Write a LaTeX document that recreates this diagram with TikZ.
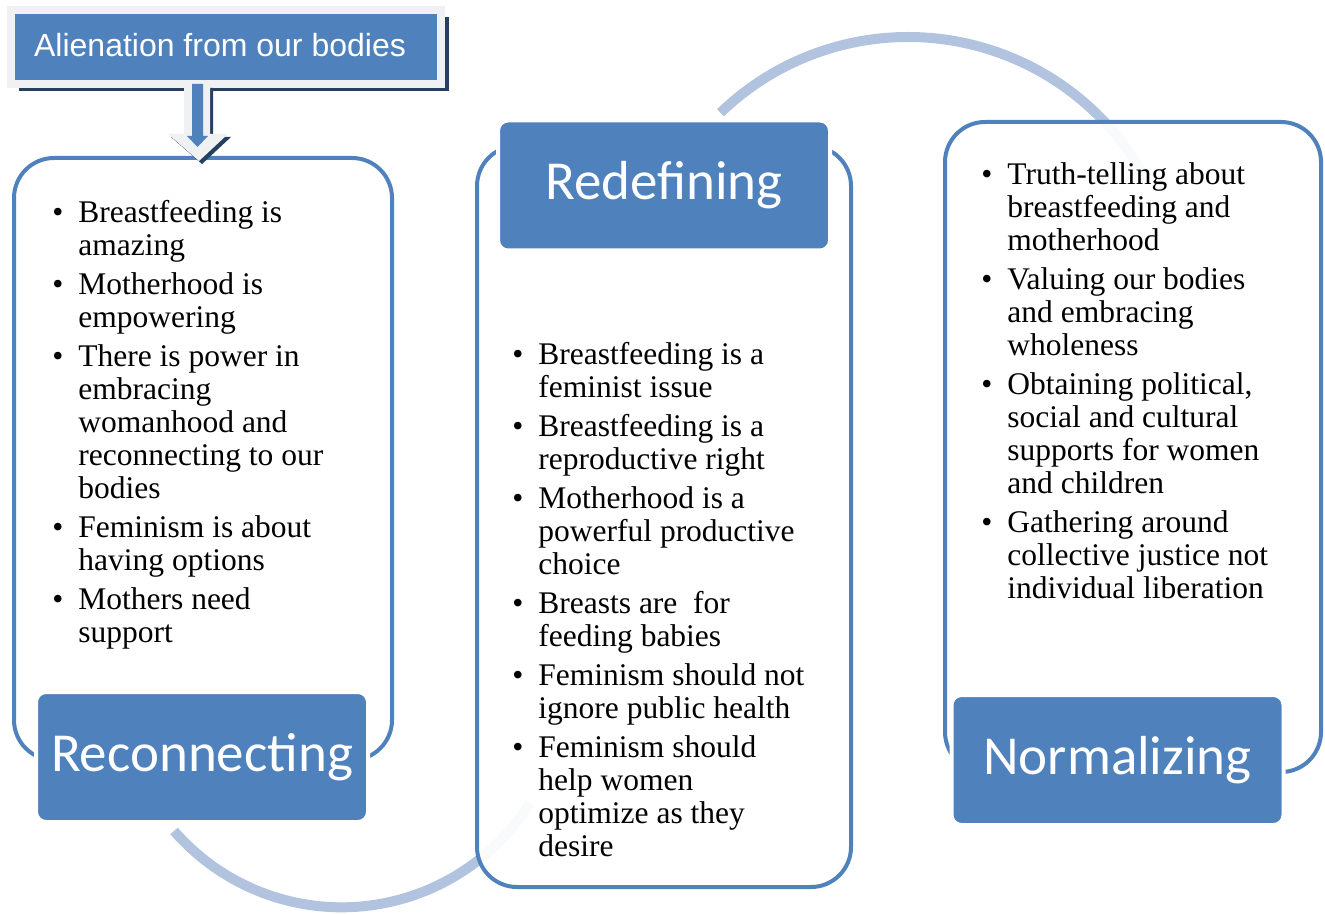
\documentclass[tikz,border=0pt]{standalone}
\usepackage{fontspec}
\setmainfont{Liberation Serif}
\newfontfamily\boxfont{Carlito}
\newfontfamily\alienfont{Liberation Sans}
\usetikzlibrary{shadows}

\definecolor{boxblue}{RGB}{79,129,189}
\definecolor{arcblue}{RGB}{177,195,223}
\definecolor{shadowblue}{RGB}{36,63,96}
\definecolor{lightedge}{RGB}{240,241,243}

\newcommand\bul{\makebox[13pt][l]{\textbullet}}

\begin{document}
\begin{tikzpicture}[x=0.5pt,y=-0.5pt,
  frame node/.style={draw=boxblue,line width=2pt,rounded corners=20pt,fill=white,fill opacity=0.92},
  title node/.style={fill=boxblue,draw=white,line width=2pt,rounded corners=5pt,text=white,
    font=\boxfont\fontsize{27.5}{33}\selectfont,minimum width=166pt,minimum height=65pt},
  list node/.style={anchor=north west,inner sep=0pt,font=\fontsize{15.75}{16.5}\selectfont},
  arc line/.style={draw=arcblue,line width=5pt}]

\useasboundingbox (0,0) rectangle (1325,914);

% cycle arcs behind the frames
\draw[arc line] (908,307) ++(226:270) arc[start angle=226,end angle=330,radius=270];
\draw[arc line] (341.6,685.3) ++(139:222) arc[start angle=139,end angle=32,radius=222];

\node[frame node,minimum width=189pt,minimum height=301pt](F1) at (203,459) {};
\node[frame node,minimum width=187pt,minimum height=370.5pt](F2) at (664,516.5) {};
\node[frame node,minimum width=188pt,minimum height=325pt](F3) at (1133,447) {};

\node[title node](Rec) at (202,757) {Reconnecting};
\node[title node](Red) at (664,185.5) {Redefining};
\node[title node](Nor) at (1117.5,760) {Normalizing};

\node[list node](L1) at (52,199) {\begin{tabular}{@{}l@{}l@{}}
\bul & Breastfeeding is\\
 & amazing\\[3pt]
\bul & Motherhood is\\
 & empowering\\[3pt]
\bul & There is power in\\
 & embracing\\
 & womanhood and\\
 & reconnecting to our\\
 & bodies\\[3pt]
\bul & Feminism is about\\
 & having options\\[3pt]
\bul & Mothers need\\
 & support
\end{tabular}};

\node[list node](L2) at (512,341) {\begin{tabular}{@{}l@{}l@{}}
\bul & Breastfeeding is a\\
 & feminist issue\\[3pt]
\bul & Breastfeeding is a\\
 & reproductive right\\[3pt]
\bul & Motherhood is a\\
 & powerful productive\\
 & choice\\[3pt]
\bul & Breasts are\ \ for\\
 & feeding babies\\[3pt]
\bul & Feminism should not\\
 & ignore public health\\[3pt]
\bul & Feminism should\\
 & help women\\
 & optimize as they\\
 & desire
\end{tabular}};

\node[list node](L3) at (981,161) {\begin{tabular}{@{}l@{}l@{}}
\bul & Truth-telling about\\
 & breastfeeding and\\
 & motherhood\\[3pt]
\bul & Valuing our bodies\\
 & and embracing\\
 & wholeness\\[3pt]
\bul & Obtaining political,\\
 & social and cultural\\
 & supports for women\\
 & and children\\[3pt]
\bul & Gathering around\\
 & collective justice not\\
 & individual liberation
\end{tabular}};

% header box and its block arrow
\node[fill=boxblue,draw=lightedge,line width=4pt,text=white,font=\alienfont\fontsize{16}{19}\selectfont,
  minimum width=215pt,minimum height=36.75pt,
  general shadow={fill=shadowblue,shadow xshift=4pt,shadow yshift=-3.5pt}](A) at (226,47.25) {\hspace*{-6pt}\raisebox{2pt}{Alienation from our bodies}};

\fill[shadowblue] (187,88) -- (213,88) -- (213,137) -- (231,137) -- (202,164) -- (171,137) -- (187,137) -- cycle;
\fill[lightedge] (184,84) -- (210,84) -- (210,134) -- (228,134) -- (199,161) -- (168,134) -- (184,134) -- cycle;
\fill[boxblue] (192,84) -- (203,84) -- (203,136) -- (208,136) -- (197.5,147) -- (187,136) -- (192,136) -- cycle;

\end{tikzpicture}
\end{document}
